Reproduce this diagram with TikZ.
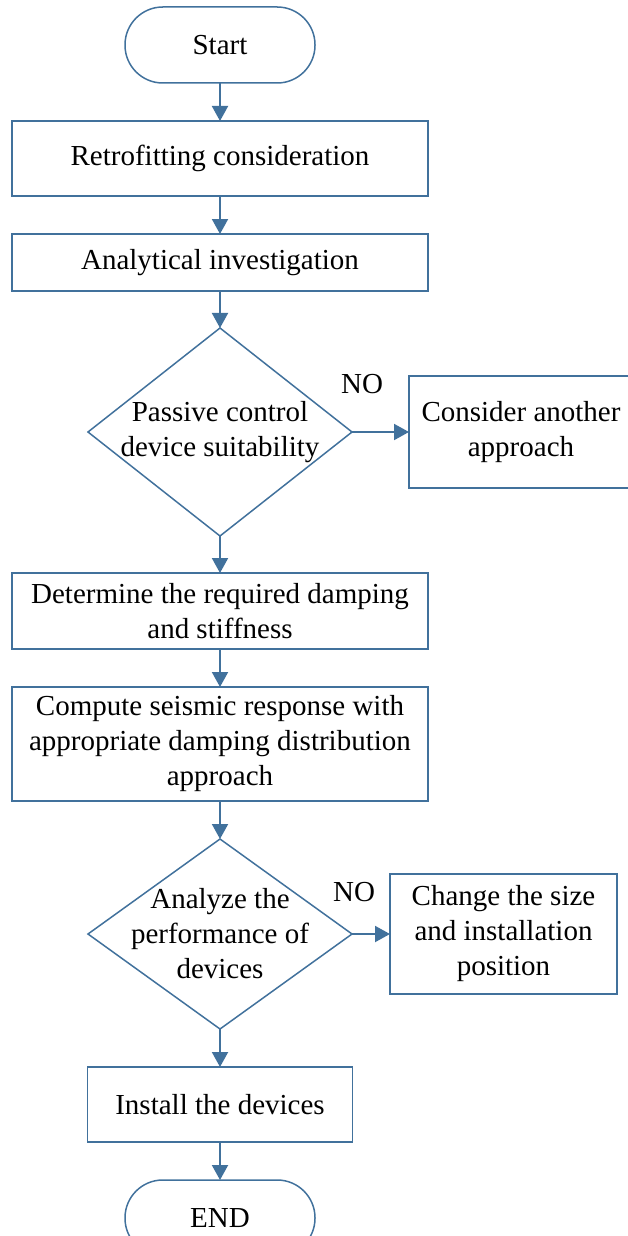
\documentclass[tikz,border=0pt]{standalone}
\usepackage{fontspec}
\setmainfont{Liberation Serif}
\usetikzlibrary{positioning}
\usetikzlibrary{arrows.meta}
\usetikzlibrary{shapes.geometric}
\definecolor{flowblue}{RGB}{65,113,156}

\begin{document}
\begin{tikzpicture}[
			terminal/.style={draw=flowblue, line width=0.75pt, rectangle, rounded corners=18.9pt, minimum width=95pt, minimum height=38pt, inner sep=0pt, outer sep=0pt},
			process/.style={draw=flowblue, line width=0.75pt, rectangle, minimum width=208pt, minimum height=37.5pt, inner sep=0pt, outer sep=0pt, align=center},
			decision/.style={draw=flowblue, line width=0.75pt, diamond, minimum width=132pt, inner sep=-12pt, outer sep=0pt, align=center},
			arrow/.style={draw=flowblue, line width=1pt, -{Triangle[length=7.5pt,width=8pt]}},
			nolabel/.style={inner sep=0pt},
			node distance=19pt,
			font=\fontsize{14.5pt}{17.5pt}\selectfont
			]
			\useasboundingbox (0,0) rectangle (313.5pt,-618pt);
			
			% Main flow
			\node[terminal] (start) at (110pt,-22.5pt) {Start};
			\node[process, below=of start] (retro) {Retrofitting consideration};
			\node[process, below=of retro, minimum height=28.5pt] (analysis) {Analytical investigation};
			\node[decision, below=18.5pt of analysis, minimum height=104pt, aspect=1.27] (check1) {Passive control\\device suitability};
			\node[process, below=18.5pt of check1, minimum height=38pt] (damping) {Determine the required damping\\and stiffness};
			\node[process, below=of damping, minimum height=57pt] (response) {Compute seismic response with\\appropriate damping distribution\\approach};
			\node[decision, below=of response, minimum height=95pt, aspect=1.39] (check2) {Analyze the\\performance of\\devices};
			\node[process, below=of check2, minimum width=132.5pt] (install) {Install the devices};
			\node[terminal, below=of install] (finish) {END};
			
			% Side branches
			\node[process, right=28.5pt of check1, minimum width=112pt, minimum height=56pt] (another) {Consider another\\approach};
			\node[process, right=of check2, minimum width=113.5pt, minimum height=60pt] (resize) {Change the size\\and installation\\position};
			\node[nolabel, above=19pt of check1.east, xshift=5pt] (no1) {NO};
			\node[nolabel, above=16pt of check2.east, xshift=1pt] (no2) {NO};
			
			% Connections
			\draw[arrow] (start) -- (retro);
			\draw[arrow] (retro) -- (analysis);
			\draw[arrow] (analysis) -- (check1);
			\draw[arrow] (check1) -- (damping);
			\draw[arrow] (damping) -- (response);
			\draw[arrow] (response) -- (check2);
			\draw[arrow] (check2) -- (install);
			\draw[arrow] (install) -- (finish);
			\draw[arrow] (check1) -- (another);
			\draw[arrow] (check2) -- (resize);
		\end{tikzpicture}
\end{document}
